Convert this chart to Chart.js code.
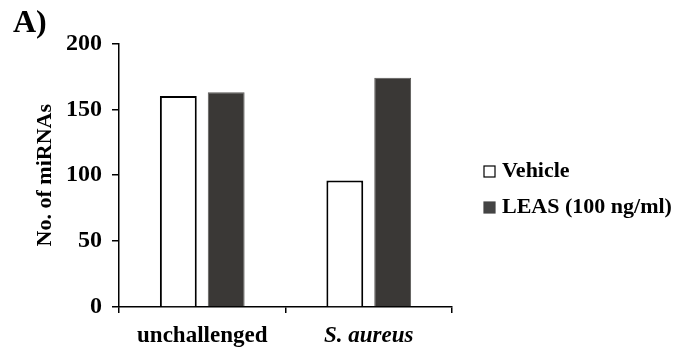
<!DOCTYPE html>
<html>
<head>
<meta charset="utf-8">
<script src="https://cdn.jsdelivr.net/npm/chart.js@4.4.0/dist/chart.umd.min.js"></script>
<style>
    html, body { margin: 0; padding: 0; background: #ffffff; }
    #wrap { width: 684px; height: 353px; position: relative; }
</style>
</head>
<body>
<div id="wrap"><canvas id="mirnaChart"></canvas></div>
<script>
const conditions = ['unchallenged', 'S. aureus'];
const vehicleCounts = [160, 96];
const leasCounts = [163, 174];
const yTicks = [0, 50, 100, 150, 200];

const serif = "'Liberation Serif', 'Times New Roman', serif";
const darkFill = '#3a3836';

// Legend drawn by hand so the boxes sit tight against the labels
const sideLegend = {
    id: 'sideLegend',
    afterDraw(chart) {
        const ctx = chart.ctx;
        const items = [
            { text: chart.data.datasets[0].label, fill: '#ffffff', stroke: '#000000', y: 171 },
            { text: chart.data.datasets[1].label, fill: '#444444', stroke: '#444444', y: 207 }
        ];
        ctx.save();
        ctx.font = 'bold 22px ' + serif;
        ctx.textBaseline = 'middle';
        items.forEach(item => {
            ctx.fillStyle = item.fill;
            ctx.fillRect(484, item.y - 5, 11, 11);
            ctx.strokeStyle = item.stroke;
            ctx.lineWidth = 1.2;
            ctx.strokeRect(484, item.y - 5, 11, 11);
            ctx.fillStyle = '#000000';
            ctx.fillText(item.text, 502, item.y);
        });
        ctx.restore();
    }
};

new Chart(document.getElementById('mirnaChart').getContext('2d'), {
    type: 'bar',
    data: {
        labels: conditions,
        datasets: [
            {
                label: 'Vehicle',
                data: vehicleCounts,
                backgroundColor: '#ffffff',
                borderColor: '#000000',
                borderWidth: 2,
                borderSkipped: 'bottom',
                categoryPercentage: 0.575,
                barPercentage: 0.77
            },
            {
                label: 'LEAS (100 ng/ml)',
                data: leasCounts,
                backgroundColor: darkFill,
                borderColor: '#5a5856',
                borderWidth: 1,
                borderSkipped: 'bottom',
                categoryPercentage: 0.575,
                barPercentage: 0.77
            }
        ]
    },
    options: {
        responsive: true,
        maintainAspectRatio: false,
        animation: false,
        layout: {
            padding: { top: 0, left: 13, right: 232, bottom: 0 }
        },
        plugins: {
            legend: { display: false },
            tooltip: { enabled: false },
            title: {
                display: true,
                text: 'A)',
                align: 'start',
                color: '#000000',
                font: { family: serif, size: 32, weight: 'bold' },
                padding: { top: 5, bottom: 0 }
            }
        },
        scales: {
            x: {
                offset: true,
                afterFit: scale => { scale.height = 46; },
                border: { display: true, color: '#000000', width: 1.5 },
                grid: {
                    display: true,
                    offset: true,
                    drawOnChartArea: false,
                    drawTicks: true,
                    tickLength: 6,
                    color: '#000000',
                    lineWidth: 1.5
                },
                ticks: {
                    color: '#000000',
                    padding: 9,
                    font: ctx => ({
                        family: serif,
                        size: 23,
                        weight: 'bold',
                        style: ctx.index === 1 ? 'italic' : 'normal'
                    })
                }
            },
            y: {
                min: 0,
                max: 200,
                afterFit: scale => { scale.width = 106; },
                afterBuildTicks: scale => {
                    scale.ticks = yTicks.map(v => ({ value: v }));
                },
                border: { display: true, color: '#000000', width: 1.5 },
                grid: {
                    drawOnChartArea: false,
                    drawTicks: true,
                    tickLength: 7,
                    color: '#000000',
                    lineWidth: 1.5
                },
                ticks: {
                    color: '#000000',
                    padding: 10,
                    font: { family: serif, size: 24, weight: 'bold' }
                },
                title: {
                    display: true,
                    text: 'No. of miRNAs',
                    color: '#000000',
                    font: { family: serif, size: 22, weight: 'bold' },
                    padding: { top: 19, bottom: 0 }
                }
            }
        }
    },
    plugins: [sideLegend]
});
</script>
</body>
</html>
